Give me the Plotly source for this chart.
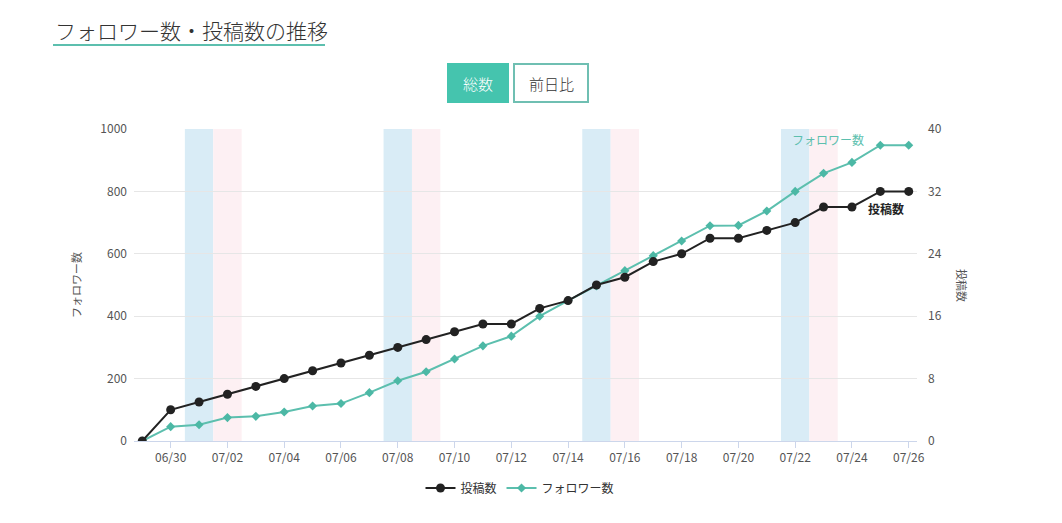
from datetime import date, timedelta
import plotly.graph_objects as go

# --- data ---
days = ["2023-06-29", "2023-06-30"] + [f"2023-07-{d:02d}" for d in range(1, 27)]
posts = [0, 4, 5, 6, 7, 8, 9, 10, 11, 12, 13, 14, 15, 15, 17, 18,
         20, 21, 23, 24, 26, 26, 27, 28, 30, 30, 32, 32]
followers = [0, 46, 52, 75, 79, 93, 112, 120, 155, 193, 222, 263, 305, 336,
             400, 450, 497, 546, 594, 641, 690, 691, 737, 800, 858, 893, 948, 948]
saturdays = ["2023-07-01", "2023-07-08", "2023-07-15", "2023-07-22"]
sundays = ["2023-07-02", "2023-07-09", "2023-07-16", "2023-07-23"]

FONT = "Noto Sans CJK JP"
TEAL = "#5cbfae"
TEAL_DARK = "#4cb8a5"
BLACK = "#222222"

# page has an 8px body margin, so the figure starts at (8, 8) in the window
OFF = 8
W, H = 1062 - OFF, 523 - OFF
# plot area in window pixels: x 134..917, y 129..441
L, R, T, B = 134 - OFF, 1062 - 917, 129 - OFF, 523 - 441
pw, ph = W - L - R, H - T - B


def px_x(p):
    return (p - OFF - L) / pw


def px_y(p):
    return (H - B - (p - OFF)) / ph


def band(d):
    c = date.fromisoformat(d)
    return (f"{c - timedelta(days=1)} 12:00", f"{c} 12:00")


fig = go.Figure()

fig.add_trace(go.Scatter(
    x=days, y=posts, name="投稿数", yaxis="y2", mode="lines+markers",
    line=dict(color=BLACK, width=2),
    marker=dict(symbol="circle", size=9, color=BLACK),
))
fig.add_trace(go.Scatter(
    x=days, y=followers, name="フォロワー数", mode="lines+markers",
    line=dict(color=TEAL, width=2),
    marker=dict(symbol="diamond", size=7, color=TEAL_DARK),
))

# weekend bands
shapes = []
for d in saturdays:
    x0, x1 = band(d)
    shapes.append(dict(type="rect", xref="x", yref="paper", layer="below",
                       x0=x0, x1=x1, y0=0, y1=1,
                       fillcolor="#d9ecf6", line=dict(width=0)))
for d in sundays:
    x0, x1 = band(d)
    shapes.append(dict(type="rect", xref="x", yref="paper", layer="below",
                       x0=x0, x1=x1, y0=0, y1=1,
                       fillcolor="#fdf0f3", line=dict(width=0)))

# title underline and buttons
shapes.append(dict(type="line", xref="paper", yref="paper",
                   x0=px_x(53), x1=px_x(325), y0=px_y(45), y1=px_y(45),
                   line=dict(color=TEAL, width=2)))
shapes.append(dict(type="rect", xref="paper", yref="paper",
                   x0=px_x(448), x1=px_x(508), y0=px_y(102), y1=px_y(64),
                   fillcolor="#45c4ae", line=dict(color="#45c4ae", width=2)))
shapes.append(dict(type="rect", xref="paper", yref="paper",
                   x0=px_x(514), x1=px_x(588), y0=px_y(102), y1=px_y(64),
                   fillcolor="white", line=dict(color="#6fbfb2", width=2)))

annotations = [
    dict(text="総数", xref="paper", yref="paper", x=px_x(478), y=px_y(83),
         xanchor="center", yanchor="middle",
         showarrow=False, font=dict(family=FONT, size=15, color="white", weight=300)),
    dict(text="前日比", xref="paper", yref="paper", x=px_x(551), y=px_y(83),
         xanchor="center", yanchor="middle",
         showarrow=False, font=dict(family=FONT, size=15, color="#333", weight=300)),
    dict(text="フォロワー数", xref="paper", yref="paper", x=px_x(76), y=0.5,
         xanchor="center", yanchor="middle",
         textangle=-90, showarrow=False, font=dict(family=FONT, size=11, color="#555")),
    dict(text="投稿数", xref="paper", yref="paper", x=px_x(962), y=0.5,
         xanchor="center", yanchor="middle",
         textangle=90, showarrow=False, font=dict(family=FONT, size=11, color="#555")),
    dict(text="フォロワー数", xref="x", yref="y", x="2023-07-23 04:00", y=965,
         showarrow=False, font=dict(family=FONT, size=12, color=TEAL)),
    dict(text="投稿数", xref="x", yref="y", x="2023-07-25 05:00", y=744,
         showarrow=False, font=dict(family=FONT, size=12, color=BLACK, weight=600)),
]

fig.update_layout(
    width=W, height=H,
    margin=dict(l=L, r=R, t=T, b=B),
    paper_bgcolor="white", plot_bgcolor="white",
    font=dict(family=FONT, size=12, color="#555"),
    title=dict(text="フォロワー数・投稿数の推移", xref="container", yref="container",
               x=(55 - OFF) / W, y=1 - (32 - OFF) / H, xanchor="left", yanchor="middle",
               font=dict(family=FONT, size=21, color="#333", weight=300)),
    shapes=shapes,
    annotations=annotations,
    showlegend=True,
    legend=dict(orientation="h", x=px_x(520), xanchor="center", y=px_y(488), yanchor="middle",
                font=dict(family=FONT, size=12, color="#333")),
    xaxis=dict(
        type="date",
        range=["2023-06-28 17:00", "2023-07-26 07:00"],
        tick0="2023-06-30", dtick=2 * 86400000, tickformat="%m/%d",
        showgrid=False, showline=True, linecolor="#ccd6eb",
        ticks="outside", ticklen=6, tickcolor="#ccd6eb",
        tickfont=dict(family=FONT, size=12, color="#555"),
    ),
    yaxis=dict(
        range=[0, 1000], dtick=200, showgrid=True, gridcolor="#e6e6e6",
        zeroline=False, showline=False, ticks="", ticklabelstandoff=6,
        tickfont=dict(family=FONT, size=12, color="#555"),
    ),
    yaxis2=dict(
        range=[0, 40], dtick=8, overlaying="y", side="right",
        showgrid=False, zeroline=False, showline=False, ticklabelstandoff=10,
        tickfont=dict(family=FONT, size=12, color="#555"),
    ),
)

fig.write_html("out.html")
